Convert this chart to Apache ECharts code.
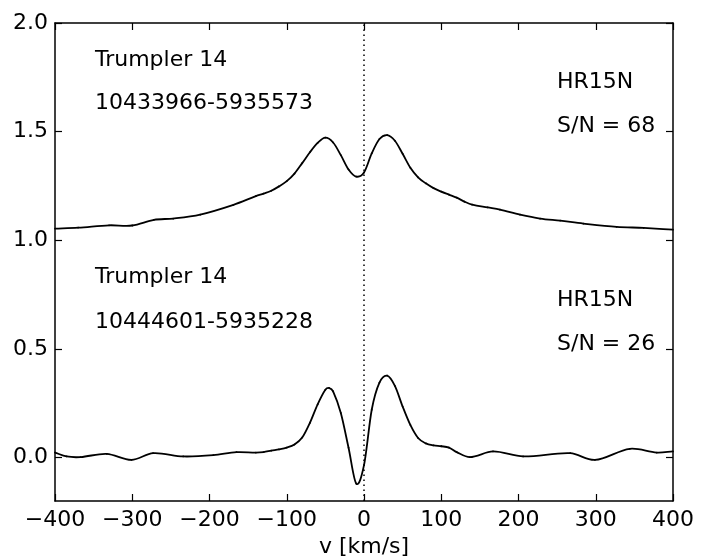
<!DOCTYPE html>
<html>
<head>
<meta charset="utf-8">
<script src="https://cdn.jsdelivr.net/npm/echarts@6/dist/echarts.min.js"></script>
<style>html,body{margin:0;padding:0;background:#fff}#c{width:710px;height:560px}</style>
</head>
<body>
<div id="c"></div>
<script>
// Star 1 (Trumpler 14, 10433966-5935573), offset +1
var vel1 = [-400,-370,-330,-300,-272,-247,-212,-169,-140,-130,-120,-110,-100,-90,-80,-70,-60,-50,-40,-30,-20,-10,0,10,20,30,40,50,60,70,80,90,100,110,120,130,140,160,176,202,228,254,284,327,362,400];
var flux1 = [1.054,1.058,1.069,1.068,1.094,1.100,1.118,1.163,1.203,1.215,1.228,1.248,1.272,1.307,1.355,1.405,1.448,1.472,1.450,1.392,1.326,1.293,1.312,1.400,1.466,1.484,1.458,1.398,1.334,1.290,1.262,1.240,1.224,1.210,1.196,1.178,1.164,1.151,1.141,1.118,1.100,1.090,1.077,1.062,1.057,1.049];
// Star 2 (Trumpler 14, 10444601-5935228)
var vel2 = [-400,-385,-367,-333,-301,-273,-234,-195,-165,-140,-130,-120,-110,-100,-90,-80,-70,-60,-50,-45,-40,-30,-20,-10,0,10,20,30,40,50,60,70,80,90,100,110,120,137,167,206,267,299,344,379,400];
var flux2 = [0.023,0.005,0.002,0.017,-0.011,0.020,0.005,0.011,0.025,0.023,0.025,0.032,0.038,0.046,0.060,0.092,0.160,0.245,0.312,0.320,0.305,0.205,0.045,-0.120,-0.035,0.220,0.345,0.377,0.330,0.235,0.150,0.090,0.065,0.056,0.052,0.046,0.025,0.002,0.028,0.005,0.020,-0.011,0.040,0.023,0.028];
var xTicks = [-400,-300,-200,-100,0,100,200,300,400];
var yTicks = [0.0,0.5,1.0,1.5,2.0];
var refLineX = 0;
var labelsLeft = ['Trumpler 14','10433966-5935573','Trumpler 14','10444601-5935228'];
var labelsRight = ['HR15N','S/N = 68','HR15N','S/N = 26'];

function pairs(xs, ys){ return xs.map(function(x,i){ return [x, ys[i]]; }); }
var FONT = 'DejaVu Sans';
var FS = 22;
function fmtX(v){ return v < 0 ? '\u2212' + Math.abs(v) : String(v); }

// Smooth cubic Hermite segment between data points i and i+1 (drawn through the axes' scales)
function splineRenderer(xs, ys){
  return function(params, api){
    var i = params.dataIndex, n = xs.length;
    if (i >= n - 1) return null;
    var P = function(k){ k = Math.max(0, Math.min(n - 1, k)); return api.coord([xs[k], ys[k]]); };
    var p0 = P(i - 1), p1 = P(i), p2 = P(i + 1), p3 = P(i + 2);
    function slope(a, b){ return (b[1] - a[1]) / (b[0] - a[0]); }
    var m1 = (i === 0) ? slope(p1, p2) : slope(p0, p2);
    var m2 = (i + 1 === n - 1) ? slope(p1, p2) : slope(p1, p3);
    var h = p2[0] - p1[0];
    return {
      type:'bezierCurve',
      shape:{x1:p1[0], y1:p1[1], x2:p2[0], y2:p2[1],
             cpx1:p1[0] + h/3, cpy1:p1[1] + m1*h/3,
             cpx2:p2[0] - h/3, cpy2:p2[1] - m2*h/3},
      style:{stroke:'#000', lineWidth:1.8, fill:null, lineCap:'round'}
    };
  };
}

var chart = echarts.init(document.getElementById('c'));
var axisLine = {show:true, onZero:false, lineStyle:{color:'#000', width:1.5}};
var tickIn = {show:true, inside:true, length:7, lineStyle:{color:'#000', width:1.2}};

var leftY = [59, 102, 276, 321];
var rightY = [81, 125, 299, 343];
var graphics = [];
labelsLeft.forEach(function(t,i){
  graphics.push({type:'text', left:95, top:leftY[i]-10, style:{text:t, fill:'#000', font: FS+'px "'+FONT+'"'}});
});
labelsRight.forEach(function(t,i){
  graphics.push({type:'text', left:557, top:rightY[i]-10, style:{text:t, fill:'#000', font: FS+'px "'+FONT+'"'}});
});

chart.setOption({
  animation:false,
  backgroundColor:'#fff',
  grid:{left:55, right:37, top:23, bottom:59, containLabel:false, outerBoundsMode:'none'},
  xAxis:[{
    type:'value', min:-400, max:400, interval:100, position:'bottom',
    axisLine:axisLine, axisTick:tickIn, splitLine:{show:false},
    axisLabel:{color:'#000', fontFamily:FONT, fontSize:FS, margin:8, formatter:fmtX},
    name:'v [km/s]', nameLocation:'middle', nameGap:35,
    nameTextStyle:{color:'#000', fontFamily:FONT, fontSize:FS}
  },{
    type:'value', min:-400, max:400, interval:100, position:'top',
    axisLine:axisLine, axisTick:tickIn, splitLine:{show:false}, axisLabel:{show:false}
  }],
  yAxis:[{
    type:'value', min:-0.2, max:2.0, position:'left',
    axisLine:axisLine,
    axisTick:{show:true, inside:true, length:7, lineStyle:{color:'#000', width:1.2}, customValues:yTicks},
    splitLine:{show:false},
    axisLabel:{color:'#000', fontFamily:FONT, fontSize:FS, margin:7, customValues:yTicks, formatter:function(v){return v.toFixed(1);}}
  },{
    type:'value', min:-0.2, max:2.0, position:'right',
    axisLine:axisLine,
    axisTick:{show:true, inside:true, length:7, lineStyle:{color:'#000', width:1.2}, customValues:yTicks},
    splitLine:{show:false}, axisLabel:{show:false}
  }],
  series:[{
    type:'line', data:[], showSymbol:false,
    markLine:{silent:true, symbol:'none', label:{show:false}, animation:false,
      lineStyle:{color:'#000', width:1.5, type:[1.5,3.5]},
      data:[{xAxis:refLineX}]}
  },{
    type:'custom', data:pairs(vel1, flux1), renderItem:splineRenderer(vel1, flux1)
  },{
    type:'custom', data:pairs(vel2, flux2), renderItem:splineRenderer(vel2, flux2)
  }],
  graphic:graphics
});
</script>
</body>
</html>
